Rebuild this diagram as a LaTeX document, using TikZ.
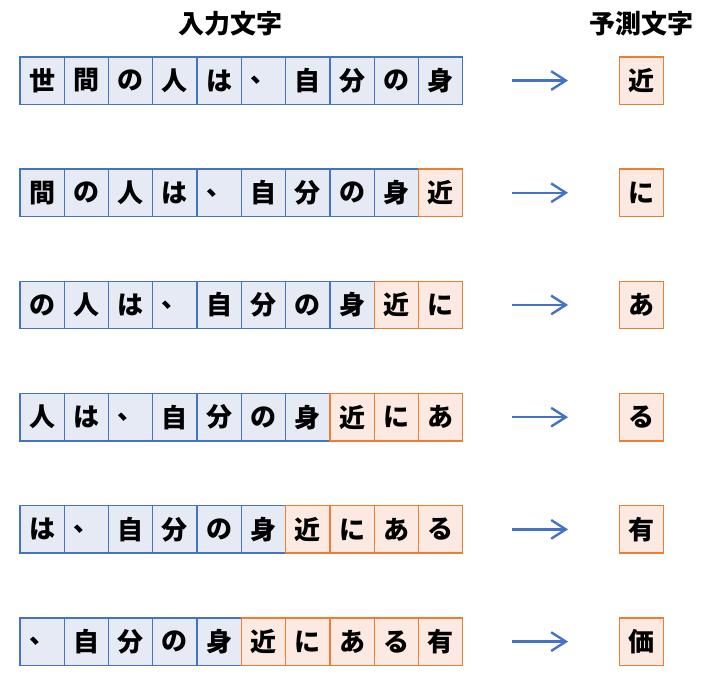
\documentclass[tikz,border=0pt]{standalone}
\usepackage{fontspec}
\setmainfont{Noto Sans CJK JP}
\usetikzlibrary{arrows.meta}
\definecolor{inblue}{HTML}{4472C4}
\definecolor{infill}{HTML}{E6EAF5}
\definecolor{prorange}{HTML}{ED7D31}
\definecolor{prfill}{HTML}{FCEAE2}

\begin{document}
\begin{tikzpicture}
    \def\dx{33.2pt}
    \def\dy{84.15pt}

    \useasboundingbox (-31.6pt,60.4pt) rectangle (495.6pt,-451.1pt);

    \tikzstyle{title}=[font=\bfseries\fontsize{19.5}{19.5}\selectfont]
    \tikzstyle{inchar}=[draw=inblue,fill=infill,line width=1pt,minimum width=\dx,minimum height=35.5pt,inner sep=0pt,font=\bfseries\fontsize{19.5}{19.5}\selectfont]
    \tikzstyle{prchar}=[inchar,draw=prorange,fill=prfill]

    \node[title] (intitle) at (140.9pt,42.4pt) {入力文字};
    \node[title] (prtitle) at (449.3pt,42.4pt) {予測文字};

    \tikzstyle{fwd} = [draw=inblue, line width=1.8pt, -{Straight Barb[length=11pt,width=14pt]}]

    \foreach \r in {0,...,5}{
      \foreach \ch [count=\j from 0] in {世,間,の,人,は,、,自,分,の,身,近,に,あ,る,有,価}{
        \pgfmathtruncatemacro\k{\j-\r}
        \ifnum\k<0 \else\ifnum\k<10
          \ifnum\j<10
            \node[inchar] (c\r-\k) at (\k*\dx,-\r*\dy) {\ch};
          \else
            \node[prchar] (c\r-\k) at (\k*\dx,-\r*\dy) {\ch};
          \fi
        \fi\fi
        \ifnum\k=10
          \node[prchar] (t\r) at (449.5pt,-\r*\dy) {\ch};
        \fi
      }
      \coordinate (a\r) at (352.4pt,-\r*\dy);
      \coordinate (b\r) at (394.4pt,-\r*\dy);
      \draw [fwd] (a\r) -- (b\r);
    }
\end{tikzpicture}
\end{document}
